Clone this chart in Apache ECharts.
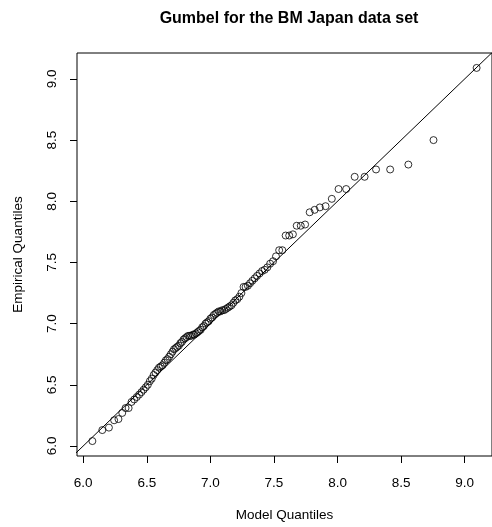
<!DOCTYPE html>
<html>
<head>
<meta charset="utf-8">
<script src="https://cdn.jsdelivr.net/npm/echarts@6/dist/echarts.min.js"></script>
<style>
html,body{margin:0;padding:0;background:#fff;}
#chart{width:492px;height:527px;}
</style>
</head>
<body>
<div id="chart"></div>
<script>
var titleText = 'Gumbel for the BM Japan data set';
var xName = 'Model Quantiles';
var yName = 'Empirical Quantiles';

var modelQuantiles = [
  6.072, 6.150, 6.202, 6.243, 6.277, 6.307, 6.333, 6.357, 6.380, 6.401,
  6.421, 6.440, 6.458, 6.475, 6.492, 6.508, 6.524, 6.539, 6.554, 6.568,
  6.582, 6.596, 6.610, 6.624, 6.637, 6.650, 6.663, 6.676, 6.689, 6.702,
  6.714, 6.727, 6.739, 6.752, 6.764, 6.776, 6.789, 6.801, 6.813, 6.825,
  6.838, 6.850, 6.862, 6.874, 6.887, 6.899, 6.911, 6.924, 6.936, 6.949,
  6.962, 6.974, 6.987, 7.000, 7.013, 7.026, 7.040, 7.053, 7.066, 7.080,
  7.094, 7.108, 7.122, 7.137, 7.151, 7.166, 7.181, 7.196, 7.212, 7.228,
  7.244, 7.261, 7.277, 7.295, 7.312, 7.330, 7.349, 7.367, 7.387, 7.407,
  7.427, 7.448, 7.470, 7.493, 7.516, 7.541, 7.566, 7.592, 7.620, 7.649,
  7.679, 7.711, 7.745, 7.781, 7.820, 7.861, 7.906, 7.955, 8.008, 8.068,
  8.135, 8.213, 8.303, 8.414, 8.557, 8.755, 9.094
];

var empiricalQuantiles = [
  6.04, 6.13, 6.15, 6.21, 6.22, 6.27, 6.31, 6.31, 6.36, 6.38,
  6.40, 6.42, 6.44, 6.46, 6.48, 6.50, 6.53, 6.55, 6.58, 6.60,
  6.62, 6.64, 6.65, 6.66, 6.68, 6.70, 6.71, 6.73, 6.75, 6.77,
  6.79, 6.80, 6.81, 6.82, 6.84, 6.85, 6.87, 6.88, 6.89, 6.90,
  6.90, 6.90, 6.91, 6.91, 6.92, 6.93, 6.94, 6.95, 6.97, 6.98,
  7.00, 7.01, 7.02, 7.04, 7.05, 7.07, 7.08, 7.09, 7.10, 7.10,
  7.11, 7.11, 7.12, 7.13, 7.14, 7.15, 7.17, 7.19, 7.20, 7.22,
  7.25, 7.30, 7.30, 7.31, 7.33, 7.35, 7.37, 7.39, 7.41, 7.43,
  7.44, 7.46, 7.49, 7.51, 7.55, 7.60, 7.60, 7.72, 7.72, 7.73,
  7.80, 7.80, 7.81, 7.91, 7.93, 7.95, 7.96, 8.02, 8.10, 8.10,
  8.20, 8.20, 8.26, 8.26, 8.30, 8.50, 9.09
];

var xTicks = [6.0, 6.5, 7.0, 7.5, 8.0, 8.5, 9.0];
var yTicks = [6.0, 6.5, 7.0, 7.5, 8.0, 8.5, 9.0];
var refLine = [5.8, 9.4];
var xRange = [5.951, 9.215];
var yRange = [5.918, 9.212];

var FONT = '"Liberation Sans", Arial, Helvetica, sans-serif';

var points = modelQuantiles.map(function (x, i) { return [x, empiricalQuantiles[i]]; });
var linePts = refLine.map(function (v) { return [v, v]; });

var chart = echarts.init(document.getElementById('chart'), null, {renderer: 'canvas'});
chart.setOption({
  animation: false,
  backgroundColor: '#ffffff',
  title: {
    text: titleText,
    left: 289,
    top: 11,
    padding: 0,
    textAlign: 'center',
    textStyle: {fontFamily: FONT, fontSize: 16, fontWeight: 'bold', color: '#000'}
  },
  grid: {
    left: 77, top: 53, width: 424, height: 406,
    show: true, borderColor: '#000', borderWidth: 1, backgroundColor: 'transparent'
  },
  xAxis: {
    type: 'value',
    min: xRange[0], max: xRange[1],
    name: xName, nameLocation: 'middle', nameGap: 52,
    nameTextStyle: {fontFamily: FONT, fontSize: 13.5, color: '#000'},
    axisLine: {show: false},
    splitLine: {show: false},
    axisTick: {show: true, length: 7, customValues: xTicks, lineStyle: {color: '#000', width: 1}},
    axisLabel: {
      customValues: xTicks, margin: 20,
      fontFamily: FONT, fontSize: 13.5, color: '#000',
      formatter: function (v) { return v.toFixed(1); }
    }
  },
  yAxis: {
    type: 'value',
    min: yRange[0], max: yRange[1],
    name: yName, nameLocation: 'middle', nameGap: 52,
    nameTextStyle: {fontFamily: FONT, fontSize: 13.5, color: '#000'},
    axisLine: {show: false},
    splitLine: {show: false},
    axisTick: {show: true, length: 7, customValues: yTicks, lineStyle: {color: '#000', width: 1}},
    axisLabel: {
      customValues: yTicks, margin: 18, rotate: 90,
      fontFamily: FONT, fontSize: 13.5, color: '#000',
      formatter: function (v) { return v.toFixed(1); }
    }
  },
  series: [
    {
      type: 'line',
      data: linePts,
      showSymbol: false,
      clip: true,
      lineStyle: {color: '#000', width: 1},
      silent: true,
      z: 1
    },
    {
      type: 'scatter',
      data: points,
      symbol: 'circle',
      symbolSize: 7,
      clip: true,
      itemStyle: {color: 'rgba(0,0,0,0)', borderColor: '#000', borderWidth: 1},
      z: 2
    }
  ]
});
</script>
</body>
</html>
